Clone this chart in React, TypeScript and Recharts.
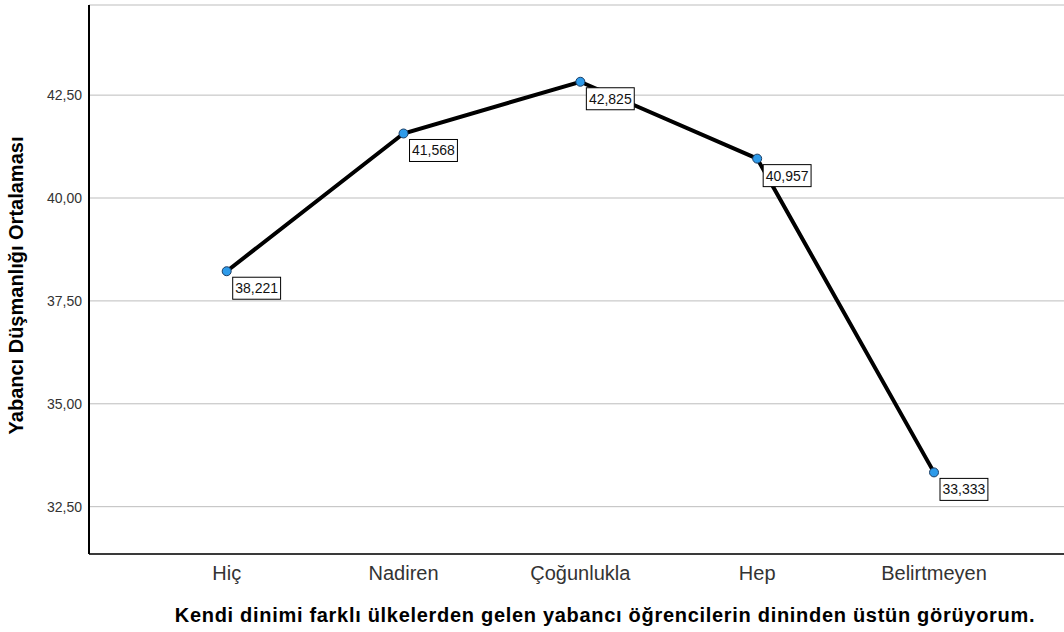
import { LineChart, Line, XAxis, YAxis, CartesianGrid, LabelList, Label } from 'recharts';

const categories = ['Hiç', 'Nadiren', 'Çoğunlukla', 'Hep', 'Belirtmeyen'];
const means = [38.221, 41.568, 42.825, 40.957, 33.333];
const yTicks = [32.5, 35, 37.5, 40, 42.5];

const data = categories.map((name, i) => ({ name, mean: means[i] }));

const FONT = '"Liberation Sans", Arial, sans-serif';
const comma = (v: number, d: number) => v.toFixed(d).replace('.', ',');

function ValueBox(props: any) {
  const { x, y, value } = props;
  const text = comma(Number(value), 3);
  const w = (text.length - 1) * 7.8 + 3.9 + 5;
  const bx = x + 6;
  const by = y + 6;
  return (
    <g>
      <rect x={bx} y={by} width={w} height={22} fill="#fff" stroke="#000" strokeWidth={1} />
      <text x={bx + w / 2} y={by + 16} textAnchor="middle" fontSize={14} fontFamily={FONT} fill="#111">
        {text}
      </text>
    </g>
  );
}

function YTitle(props: any) {
  const { viewBox } = props;
  const cy = viewBox.y + viewBox.height / 2 + 6;
  const cx = 23;
  return (
    <text
      x={cx}
      y={cy}
      transform={`rotate(-90, ${cx}, ${cy})`}
      textAnchor="middle"
      fontSize={20}
      fontWeight="bold"
      fontFamily={FONT}
      fill="#000"
    >
      Yabancı Düşmanlığı Ortalaması
    </text>
  );
}

function XTitle(props: any) {
  const { viewBox } = props;
  return (
    <text
      x={605}
      y={viewBox.y + 68}
      textAnchor="middle"
      fontSize={20}
      fontWeight="bold"
      fontFamily={FONT}
      letterSpacing={0.7}
      fill="#000"
    >
      Kendi dinimi farklı ülkelerden gelen yabancı öğrencilerin dininden üstün görüyorum.
    </text>
  );
}

export default function App() {
  return (
    <div style={{ position: 'absolute', left: 0, top: 0, width: 1064, height: 632, background: '#fff' }}>
      <LineChart width={1064} height={632} data={data} margin={{ top: 5, right: 0, bottom: 0, left: 0 }}>
        <CartesianGrid horizontal vertical={false} stroke="#bdbdbd" strokeWidth={1} />
        <XAxis
          dataKey="name"
          height={78}
          padding={{ left: 137.7, right: 130 }}
          axisLine={{ stroke: '#3a3a3a', strokeWidth: 2 }}
          tickLine={false}
          tickSize={0}
          tickMargin={12}
          tick={{ fontSize: 20, fontFamily: FONT, fill: '#333' }}
        >
          <Label content={XTitle} />
        </XAxis>
        <YAxis
          width={89}
          domain={[31.35, 44.69]}
          allowDataOverflow
          ticks={yTicks}
          tickFormatter={(v: number) => comma(v, 2)}
          axisLine={{ stroke: '#000', strokeWidth: 2 }}
          tickLine={false}
          tickSize={0}
          tickMargin={7}
          tick={{ fontSize: 14, fontFamily: FONT, fill: '#333' }}
        >
          <Label content={YTitle} />
        </YAxis>
        <Line
          type="linear"
          dataKey="mean"
          stroke="#000"
          strokeWidth={4}
          dot={{ r: 4.5, fill: '#2e9bea', stroke: '#1d3f66', strokeWidth: 1 }}
          activeDot={false}
          isAnimationActive={false}
        >
          <LabelList dataKey="mean" content={ValueBox} />
        </Line>
      </LineChart>
    </div>
  );
}
